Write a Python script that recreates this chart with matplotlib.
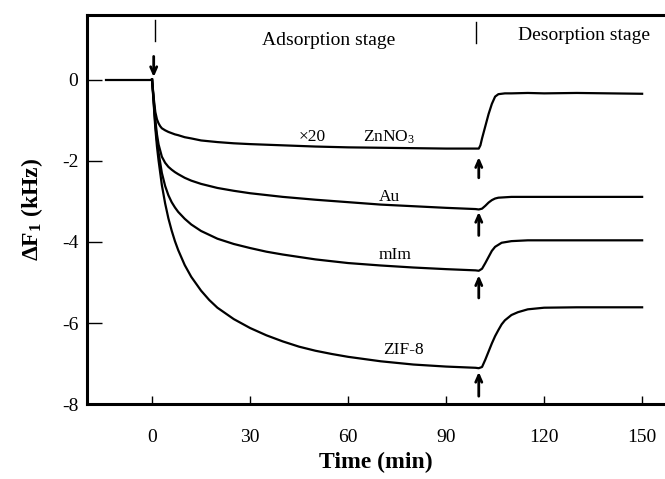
import matplotlib
matplotlib.use("Agg")
import matplotlib.pyplot as plt

plt.rcParams['font.family'] = ['Liberation Serif', 'DejaVu Serif']
plt.rcParams['mathtext.fontset'] = 'custom'
plt.rcParams['mathtext.rm'] = 'Liberation Serif'
plt.rcParams['mathtext.it'] = 'Liberation Serif:italic'
plt.rcParams['mathtext.bf'] = 'Liberation Serif:bold'

# ---- data (time in min, frequency shift in kHz) ----
t_base = [-14, 0]
f_base = [0, 0]

t_zn = [0, 0.5, 1, 1.5, 2, 2.5, 3, 4, 5, 6, 7, 8, 10, 12, 15, 20, 25, 30, 40, 50, 60, 70, 80, 90, 99, 100,
        100.5, 101, 102, 103, 104, 105, 106, 108, 110, 115, 120, 130, 140, 150]
f_zn = [0, -0.45, -0.8, -0.98, -1.08, -1.15, -1.2, -1.25, -1.29, -1.32, -1.35, -1.37, -1.42, -1.45, -1.5, -1.54, -1.57, -1.59, -1.62, -1.65, -1.67, -1.68, -1.69, -1.70, -1.70, -1.70,
        -1.62, -1.45, -1.15, -0.85, -0.6, -0.42, -0.36, -0.34, -0.34, -0.33, -0.34, -0.33, -0.34, -0.35]

t_au = [0, 0.5, 1, 1.5, 2, 3, 4, 5, 6, 7, 8, 10, 12, 15, 20, 25, 30, 40, 50, 60, 70, 80, 90, 99, 100,
        101, 102, 103, 104, 105, 106, 108, 110, 120, 130, 140, 150]
f_au = [0, -0.5, -1.0, -1.35, -1.6, -1.9, -2.05, -2.15, -2.22, -2.28, -2.33, -2.42, -2.49, -2.57, -2.67, -2.74, -2.8, -2.89, -2.96, -3.02, -3.08, -3.12, -3.16, -3.19, -3.2,
        -3.18, -3.11, -3.03, -2.97, -2.93, -2.91, -2.9, -2.89, -2.89, -2.89, -2.89, -2.89]

t_mim = [0, 0.5, 1, 1.5, 2, 3, 4, 5, 6, 7, 8, 10, 12, 15, 20, 25, 30, 35, 40, 45, 50, 60, 70, 80, 90, 99, 100,
         101, 102, 103, 104, 105, 107, 110, 115, 120, 130, 140, 150]
f_mim = [0, -0.55, -1.1, -1.5, -1.8, -2.3, -2.62, -2.85, -3.02, -3.15, -3.26, -3.43, -3.57, -3.73, -3.92, -4.05, -4.15, -4.24, -4.31, -4.37, -4.43, -4.52, -4.58, -4.63, -4.67, -4.70, -4.71,
         -4.66, -4.52, -4.37, -4.22, -4.12, -4.02, -3.98, -3.96, -3.96, -3.96, -3.96, -3.96]

t_zif = [0, 0.5, 1, 1.5, 2, 3, 4, 5, 6, 7, 8, 10, 12, 15, 17.5, 20, 25, 30, 35, 40, 45, 50, 55, 60, 70, 80, 90, 99, 100,
         101, 102, 103, 104, 105, 106, 107, 108, 110, 112, 115, 120, 130, 140, 150]
f_zif = [0, -0.6, -1.2, -1.65, -2.0, -2.6, -3.05, -3.42, -3.72, -3.98, -4.2, -4.57, -4.86, -5.2, -5.43, -5.62, -5.9, -6.12, -6.3, -6.45, -6.58, -6.68, -6.76, -6.83, -6.94, -7.02, -7.07, -7.1, -7.11,
         -7.08, -6.9, -6.7, -6.5, -6.32, -6.17, -6.03, -5.93, -5.8, -5.73, -5.66, -5.62, -5.61, -5.61, -5.61]

curve_labels = ['\u00d720', 'ZnNO$_3$', 'Au', 'mIm', 'ZIF-8']
label_t = [49, 72.4, 72.7, 74.5, 77]
label_f = [-1.42, -1.42, -2.89, -4.33, -6.67]

up_arrow_t = 100
up_arrow_tip = [-1.91, -3.26, -4.82, -7.20]
up_arrow_tail = [-2.42, -3.84, -5.38, -7.80]

stage_labels = ['Adsorption stage', 'Desorption stage']
stage_t = [54, 132.3]
stage_f = [0.97, 1.08]
marker_t = [1.0, 99.3]
marker_top = [1.46, 1.41]
marker_bot = [0.94, 0.89]

xticks = [0, 30, 60, 90, 120, 150]
yticks = [0, -2, -4, -6, -8]

fig = plt.figure(figsize=(6.65, 4.79), dpi=100)
ax = fig.add_axes([0.1304, 0.1559, 0.8696, 0.8119])

lw = 1.6
ax.plot(t_base, f_base, color='black', lw=lw)
for tt, ff in [(t_zn, f_zn), (t_au, f_au), (t_mim, f_mim), (t_zif, f_zif)]:
    ax.plot(tt, ff, color='black', lw=lw, solid_joinstyle='round')

for lab, tx, fy in zip(curve_labels, label_t, label_f):
    ax.text(tx, fy, lab, ha='center', va='center', fontsize=12.5)

arrow_props = dict(arrowstyle='->,head_length=0.5,head_width=0.22', lw=2.0, color='black',
                   shrinkA=0, shrinkB=0)
for tip, tail in zip(up_arrow_tip, up_arrow_tail):
    ax.annotate('', xy=(up_arrow_t, tip), xytext=(up_arrow_t, tail), arrowprops=arrow_props)
ax.annotate('', xy=(0.5, 0.06), xytext=(0.5, 0.57), arrowprops=arrow_props)

for tx, a, b in zip(marker_t, marker_top, marker_bot):
    ax.plot([tx, tx], [b, a], color='black', lw=1.0)
for lab, tx, fy in zip(stage_labels, stage_t, stage_f):
    ax.text(tx, fy, lab, ha='center', va='center', fontsize=14)

ax.set_xlim(-20, 157)
ax.set_ylim(-8, 1.58)
ax.set_xticks(xticks)
ax.set_yticks(yticks)
ax.set_xticklabels([str(v) for v in xticks])
ax.set_yticklabels([str(v) for v in yticks])
ax.tick_params(axis='x', direction='in', length=6, width=1, labelsize=14, pad=18)
ax.tick_params(axis='y', direction='in', length=11, width=1, labelsize=14, pad=6)
ax.spines['right'].set_visible(False)
for s in ['left', 'bottom', 'top']:
    ax.spines[s].set_linewidth(2.2)

ax.set_xlabel('Time (min)', fontsize=17, fontweight='bold', labelpad=4)
ax.set_ylabel(r'$\mathbf{\Delta F_1}$ (kHz)', fontsize=17, fontweight='bold', labelpad=12)

fig.savefig('out.png', dpi=100)
